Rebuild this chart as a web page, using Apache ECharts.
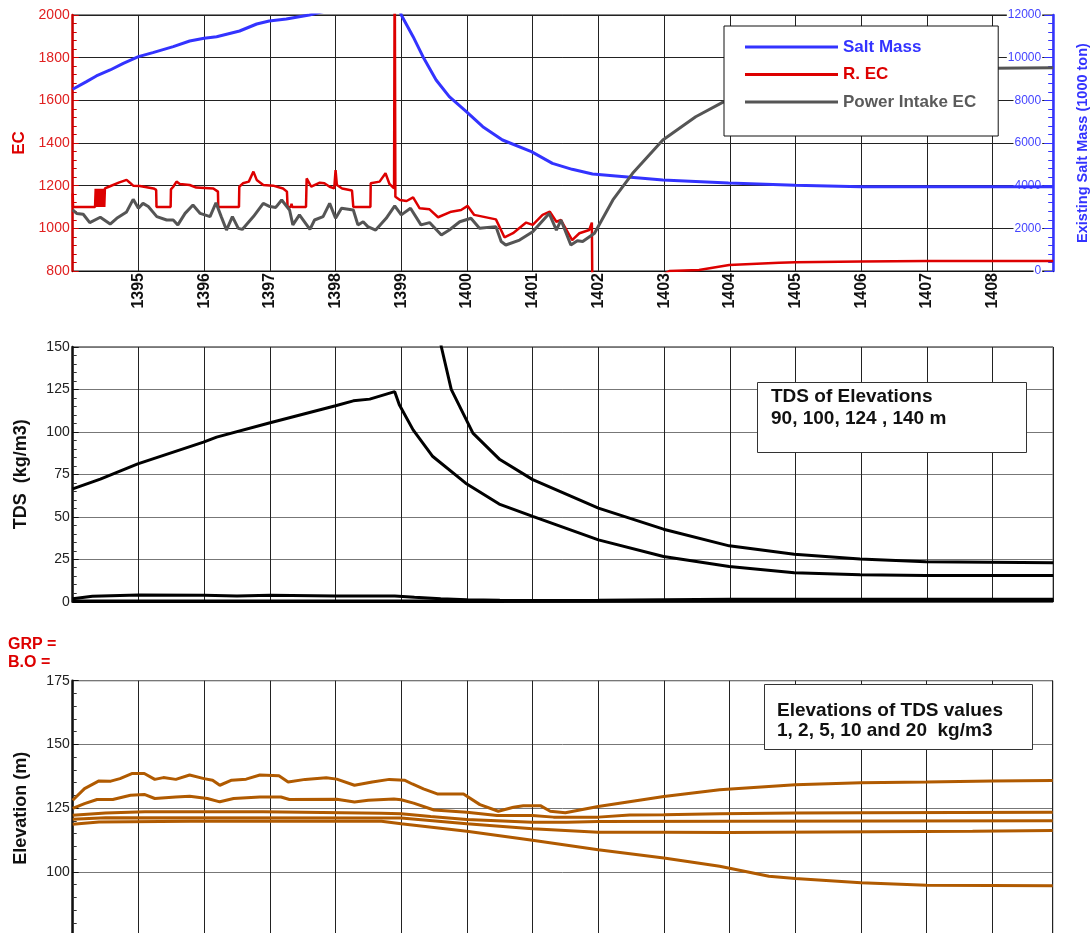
<!DOCTYPE html>
<html>
<head>
<meta charset="utf-8">
<title>EC, TDS and elevation</title>
<script type="text/javascript" src="https://cdn.jsdelivr.net/npm/echarts@6.0.0/dist/echarts.min.js"></script>
<style>
  html, body { margin: 0; padding: 0; background: #fff; }
</style>
</head>
<body>
<div id="chart" style="width:1092px;height:933px;"></div>
<script type="text/javascript">
// x values are years (Persian calendar), fractional
const xMin = 1394, xMax = 1408.92;

// ---- top panel: EC (left axis) and salt mass (right axis)
const saltMass = [[1394.0,8517],[1394.21,8875],[1394.36,9141],[1394.57,9422],[1394.77,9734],[1395.0,10047],[1395.22,10234],[1395.53,10516],[1395.78,10781],[1396.0,10906],[1396.19,10984],[1396.54,11250],[1396.8,11578],[1396.99,11719],[1397.25,11812],[1397.6,12000],[1398.0,12300],[1398.5,12600],[1398.9,12800],[1398.95,12500],[1399.0,12000],[1399.18,10984],[1399.33,10047],[1399.53,8953],[1399.73,8172],[1399.99,7469],[1400.24,6766],[1400.54,6141],[1400.98,5594],[1401.3,5047],[1401.6,4766],[1401.91,4547],[1402.22,4469],[1402.98,4266],[1403.98,4125],[1404.99,4016],[1405.99,3953],[1408.92,3953]];

const riverEC = [[1394.0,1164],[1394.005,1100],[1394.34,1100],
  [1394.35,1185],[1394.36,1100],[1394.37,1185],[1394.38,1100],[1394.39,1185],[1394.40,1100],[1394.41,1185],[1394.42,1100],[1394.43,1185],[1394.44,1100],[1394.45,1185],[1394.46,1100],[1394.47,1185],[1394.48,1100],[1394.49,1187],
  [1394.55,1195],[1394.70,1214],[1394.82,1227],[1394.87,1214],[1394.92,1200],[1395.02,1198],[1395.23,1187],[1395.27,1180],[1395.275,1100],[1395.49,1100],[1395.495,1183],[1395.53,1195],[1395.58,1219],[1395.63,1208],[1395.78,1203],[1395.88,1191],[1396.14,1187],[1396.21,1172],[1396.215,1100],[1396.53,1100],[1396.535,1195],[1396.59,1211],[1396.68,1219],[1396.75,1266],[1396.80,1227],[1396.9,1203],[1397.05,1200],[1397.2,1187],[1397.26,1172],[1397.27,1100],[1397.32,1100],[1397.33,1115],[1397.34,1100],[1397.55,1100],[1397.56,1234],[1397.63,1195],[1397.76,1214],[1397.83,1211],[1397.91,1195],[1397.98,1187],[1398.0,1273],[1398.02,1203],[1398.1,1187],[1398.25,1177],[1398.27,1100],[1398.53,1100],[1398.535,1211],[1398.67,1219],[1398.76,1258],[1398.82,1208],[1398.89,1187],[1398.90,2300],[1398.91,1148],[1398.98,1133],[1399.08,1128],[1399.18,1145],[1399.28,1094],[1399.43,1089],[1399.56,1052],[1399.76,1078],[1399.91,1086],[1400.01,1105],[1400.11,1063],[1400.44,1042],[1400.57,958],[1400.70,977],[1400.9,1027],[1401.0,1016],[1401.15,1063],[1401.26,1078],[1401.36,1031],[1401.43,1039],[1401.6,945],[1401.71,977],[1401.86,992],[1401.9,1027],[1401.91,600],[1402.5,700],[1403.08,800],[1403.53,805],[1403.99,828],[1404.75,839],[1405.0,841],[1406.0,844],[1407.0,847],[1408.92,847]];

const intakeEC = [[1394.0,1086],[1394.06,1070],[1394.16,1066],[1394.26,1027],[1394.42,1052],[1394.57,1020],[1394.67,1047],[1394.82,1077],[1394.92,1136],[1395.0,1094],[1395.07,1117],[1395.15,1102],[1395.28,1055],[1395.43,1039],[1395.53,1039],[1395.6,1016],[1395.71,1070],[1395.83,1109],[1395.94,1070],[1396.09,1055],[1396.18,1120],[1396.26,1055],[1396.34,992],[1396.43,1055],[1396.52,1000],[1396.58,995],[1396.75,1055],[1396.9,1117],[1397.0,1102],[1397.09,1098],[1397.18,1133],[1397.3,1086],[1397.35,1016],[1397.45,1063],[1397.61,995],[1397.68,1039],[1397.81,1055],[1397.91,1117],[1398.0,1047],[1398.09,1094],[1398.27,1086],[1398.34,1016],[1398.42,1031],[1398.49,1008],[1398.61,992],[1398.77,1047],[1398.9,1105],[1399.0,1063],[1399.14,1094],[1399.3,1016],[1399.43,1027],[1399.61,969],[1399.73,992],[1399.89,1031],[1400.06,1047],[1400.19,1000],[1400.44,1008],[1400.52,938],[1400.59,922],[1400.8,945],[1401.0,984],[1401.25,1070],[1401.36,992],[1401.43,1039],[1401.58,922],[1401.68,942],[1401.76,938],[1401.94,977],[1402.22,1133],[1402.52,1258],[1402.98,1414],[1403.48,1523],[1403.91,1594],[1404.3,1640],[1405.0,1690],[1406.0,1725],[1407.0,1742],[1408.0,1750],[1408.92,1753]];

// ---- middle panel: TDS at four elevations
const tds90 = [[1394.0,66.4],[1394.42,72.2],[1394.99,81.2],[1395.99,94.0],[1396.19,96.9],[1396.99,105.2],[1398.0,115.4],[1398.27,118.3],[1398.52,119.3],[1398.9,123.7],[1398.97,116.0],[1399.18,101.2],[1399.48,85.5],[1399.98,69.8],[1400.49,57.5],[1401.0,50.2],[1402.0,36.4],[1402.99,26.6],[1403.99,20.7],[1404.98,17.1],[1405.98,15.8],[1406.98,15.4],[1408.92,15.4]];
const tds100 = [[1399.5,175],[1399.61,150],[1399.76,125],[1400.09,99.3],[1400.5,83.7],[1401.0,71.9],[1402.0,55.1],[1402.99,42.7],[1403.99,32.9],[1404.98,28.0],[1405.98,25.2],[1406.98,23.6],[1408.92,23.0]];
const tds124 = [[1394.0,1.8],[1394.3,3.2],[1395.0,3.9],[1396.0,3.8],[1396.5,3.4],[1397.0,3.8],[1398.0,3.4],[1398.9,3.4],[1399.2,2.6],[1399.6,1.8],[1400.0,1.2],[1400.5,0.8],[1401.0,0.7],[1402.0,0.8],[1403.0,1.2],[1404.0,1.4],[1406.0,1.5],[1408.92,1.5]];
const tds140 = [[1394.0,0.3],[1400.0,0.2],[1404.0,0.4],[1408.92,0.5]];

// ---- bottom panel: elevations of TDS values
const elev1 = [[1394.0,128.1],[1394.18,132.7],[1394.4,135.7],[1394.58,135.6],[1394.72,136.6],[1394.9,138.6],[1395.09,138.6],[1395.25,136.3],[1395.38,137.0],[1395.57,136.3],[1395.78,138.0],[1396.0,136.6],[1396.13,136.0],[1396.24,134.0],[1396.42,136.0],[1396.64,136.4],[1396.85,138.0],[1397.14,137.7],[1397.28,135.3],[1397.54,136.3],[1397.86,136.9],[1398.02,136.4],[1398.29,134.0],[1398.56,135.3],[1398.82,136.3],[1399.05,136.0],[1399.17,134.5],[1399.34,132.6],[1399.55,130.6],[1399.95,130.6],[1400.2,126.4],[1400.48,123.8],[1400.71,125.4],[1400.86,126.0],[1401.12,126.0],[1401.27,123.8],[1401.5,123.2],[1401.72,124.3],[1402.0,125.7],[1403.0,129.6],[1403.85,132.2],[1405.0,134.2],[1406.0,135.0],[1407.0,135.3],[1408.0,135.7],[1408.92,135.9]];
const elev2 = [[1394.0,124.9],[1394.18,126.8],[1394.37,128.4],[1394.61,128.4],[1394.88,130.1],[1395.09,130.4],[1395.25,128.8],[1395.57,129.4],[1395.78,129.7],[1396.05,128.8],[1396.24,127.5],[1396.45,128.8],[1396.85,129.4],[1397.17,129.4],[1397.3,128.4],[1398.02,128.5],[1398.29,127.4],[1398.5,128.1],[1398.89,128.6],[1399.0,128.3],[1399.19,127.0],[1399.5,124.3],[1400.0,123.4],[1400.46,122.1],[1401.0,122.1],[1401.32,121.5],[1402.0,121.5],[1402.48,122.3],[1403.0,122.4],[1403.85,122.8],[1405.0,123.1],[1406.0,123.2],[1408.92,123.4]];
const elev3 = [[1394.0,122.2],[1394.5,123.1],[1395.1,123.6],[1396.9,123.6],[1398.7,123.0],[1399.0,122.8],[1399.45,121.7],[1400.0,120.6],[1401.0,119.5],[1401.52,119.5],[1402.0,119.8],[1404.0,119.9],[1408.92,120.1]];
const elev4 = [[1394.0,120.7],[1394.5,121.3],[1399.0,121.2],[1400.0,118.9],[1401.0,116.9],[1402.0,115.6],[1403.0,115.6],[1404.0,115.5],[1407.7,116.0],[1407.71,116.3],[1408.92,116.3]];
const elev5 = [[1394.0,118.7],[1394.4,119.6],[1395.8,119.9],[1398.7,119.9],[1399.0,118.9],[1400.0,116.0],[1401.0,112.4],[1402.0,108.7],[1403.0,105.5],[1403.85,102.2],[1404.6,98.3],[1405.0,97.4],[1406.0,95.8],[1407.0,94.8],[1408.92,94.6]];

const FONT = '"Liberation Sans", Arial, sans-serif';
const RED = '#dd0000', BLUE = '#3333ff', GRAY = '#555555', BROWN = '#b05a00';
const plain = function (v) { return String(v); };

function xAxisFor(gridIndex, withLabels) {
  return {
    type: 'value', gridIndex: gridIndex, min: xMin, max: xMax, interval: 1,
    axisLine: { show: true, lineStyle: { color: '#111', width: 1 } },
    axisTick: { show: false },
    axisLabel: {
      show: withLabels, rotate: 90, margin: 2, color: '#111', fontSize: 16,
      fontWeight: 'bold', fontFamily: FONT, showMinLabel: false, showMaxLabel: false,
      formatter: plain
    },
    splitLine: { show: true, lineStyle: { color: '#222', width: 1 } }
  };
}

function lineSeries(name, data, color, width, xi, yi) {
  return {
    name: name, type: 'line', data: data, xAxisIndex: xi, yAxisIndex: yi,
    symbol: 'none', clip: true, animation: false,
    lineStyle: { color: color, width: width }, itemStyle: { color: color }
  };
}

let options = {
  animation: false,
  textStyle: { fontFamily: FONT },
  grid: [
    { left: 72.7, top: 15, width: 980.5, height: 256, outerBoundsMode: 'none',
      show: true, borderColor: '#111', borderWidth: 1 },
    { left: 72.7, top: 347, width: 980.5, height: 254.7, outerBoundsMode: 'none',
      show: true, borderColor: '#111', borderWidth: 1 },
    { left: 72.7, top: 680.7, width: 980, height: 255, outerBoundsMode: 'none',
      show: true, borderColor: '#111', borderWidth: 1 }
  ],
  xAxis: [xAxisFor(0, true), xAxisFor(1, false), xAxisFor(2, false)],
  yAxis: [
    {
      type: 'value', gridIndex: 0, min: 800, max: 2000, interval: 200,
      name: 'EC', nameLocation: 'middle', nameGap: 44,
      nameTextStyle: { color: RED, fontSize: 17, fontWeight: 'bold', fontFamily: FONT },
      axisLine: { show: true, lineStyle: { color: '#cc0000', width: 2.5 } },
      axisTick: { show: true, inside: true, length: 6, lineStyle: { color: '#cc0000' } },
      minorTick: { show: true, splitNumber: 5, length: 4, lineStyle: { color: '#cc0000' } },
      axisLabel: { color: '#e02020', fontSize: 14, margin: 3, fontFamily: FONT, formatter: plain },
      splitLine: { show: true, lineStyle: { color: '#222', width: 1 } }
    },
    {
      type: 'value', gridIndex: 0, position: 'right', min: 0, max: 12000, interval: 2000,
      name: 'Existing Salt Mass (1000 ton)', nameLocation: 'middle', nameGap: 22, nameRotate: 90,
      nameTextStyle: { color: BLUE, fontSize: 14.5, fontWeight: 'bold', fontFamily: FONT },
      axisLine: { show: true, lineStyle: { color: BLUE, width: 2.5 } },
      axisTick: { show: true, inside: true, length: 9, lineStyle: { color: BLUE } },
      minorTick: { show: true, splitNumber: 5, length: 5, lineStyle: { color: BLUE } },
      axisLabel: { inside: true, color: '#4444ff', fontSize: 12, margin: 11, fontFamily: FONT,
        backgroundColor: '#fff', padding: [0, 1], formatter: plain },
      splitLine: { show: false }
    },
    {
      type: 'value', gridIndex: 1, min: 0, max: 150, interval: 25,
      name: 'TDS  (kg/m3)', nameLocation: 'middle', nameGap: 43,
      nameTextStyle: { color: '#111', fontSize: 18, fontWeight: 'bold', fontFamily: FONT },
      axisLine: { show: true, lineStyle: { color: '#111', width: 2.5 } },
      axisTick: { show: true, inside: true, length: 6, lineStyle: { color: '#111' } },
      minorTick: { show: true, splitNumber: 5, length: 4, lineStyle: { color: '#333' } },
      axisLabel: { color: '#222', fontSize: 14, margin: 3, fontFamily: FONT, formatter: plain },
      splitLine: { show: true, lineStyle: { color: '#777', width: 1 } }
    },
    {
      type: 'value', gridIndex: 2, min: 75, max: 175, interval: 25,
      name: 'Elevation (m)', nameLocation: 'middle', nameGap: 43,
      nameTextStyle: { color: '#111', fontSize: 18, fontWeight: 'bold', fontFamily: FONT },
      axisLine: { show: true, lineStyle: { color: '#111', width: 2.5 } },
      axisTick: { show: true, inside: true, length: 6, lineStyle: { color: '#111' } },
      minorTick: { show: true, splitNumber: 5, length: 4, lineStyle: { color: '#333' } },
      axisLabel: { color: '#222', fontSize: 14, margin: 3, fontFamily: FONT,
        formatter: function (v) { return v === 75 ? '' : String(v); } },
      splitLine: { show: true, lineStyle: { color: '#777', width: 1 } }
    }
  ],
  legend: {
    orient: 'vertical', left: 724, top: 26,
    padding: [11, 22, 24, 21], itemGap: 7.5, itemWidth: 93, itemHeight: 3, icon: 'rect',
    backgroundColor: '#fff', borderColor: '#111', borderWidth: 1,
    textStyle: { fontSize: 17, fontWeight: 'bold', fontFamily: FONT, lineHeight: 20 },
    data: [
      { name: 'Salt Mass', textStyle: { color: BLUE } },
      { name: 'R. EC', textStyle: { color: RED } },
      { name: 'Power Intake EC', textStyle: { color: '#5a5a5a' } }
    ]
  },
  graphic: [
    { type: 'rect', left: 757, top: 382, z: 100,
      shape: { width: 269, height: 70 }, style: { fill: '#fff', stroke: '#333', lineWidth: 1 } },
    { type: 'text', left: 771, top: 386, z: 101,
      style: { text: 'TDS of Elevations\n90, 100, 124 , 140 m', fontSize: 19, fontWeight: 'bold',
        fontFamily: FONT, lineHeight: 22, fill: '#111' } },
    { type: 'rect', left: 764, top: 684, z: 100,
      shape: { width: 268, height: 65 }, style: { fill: '#fff', stroke: '#333', lineWidth: 1 } },
    { type: 'text', left: 777, top: 701, z: 101,
      style: { text: 'Elevations of TDS values\n1, 2, 5, 10 and 20  kg/m3', fontSize: 19, fontWeight: 'bold',
        fontFamily: FONT, lineHeight: 20, fill: '#111' } },
    { type: 'text', left: 8, top: 636, z: 101,
      style: { text: 'GRP =\nB.O =', fontSize: 16, fontWeight: 'bold', fontFamily: FONT,
        lineHeight: 17.5, fill: RED } }
  ],
  series: [
    lineSeries('Salt Mass', saltMass, BLUE, 3, 0, 1),
    lineSeries('R. EC', riverEC, RED, 2.5, 0, 0),
    lineSeries('Power Intake EC', intakeEC, GRAY, 3, 0, 0),
    lineSeries('TDS 90 m', tds90, '#000', 3, 1, 2),
    lineSeries('TDS 100 m', tds100, '#000', 3, 1, 2),
    lineSeries('TDS 124 m', tds124, '#000', 3, 1, 2),
    lineSeries('TDS 140 m', tds140, '#000', 3.5, 1, 2),
    lineSeries('Elev 1', elev1, BROWN, 3, 2, 3),
    lineSeries('Elev 2', elev2, BROWN, 3, 2, 3),
    lineSeries('Elev 3', elev3, BROWN, 3, 2, 3),
    lineSeries('Elev 4', elev4, BROWN, 3, 2, 3),
    lineSeries('Elev 5', elev5, BROWN, 3, 2, 3)
  ]
};

const myChart = echarts.init(document.getElementById('chart'));
myChart.setOption(options);
</script>
</body>
</html>
